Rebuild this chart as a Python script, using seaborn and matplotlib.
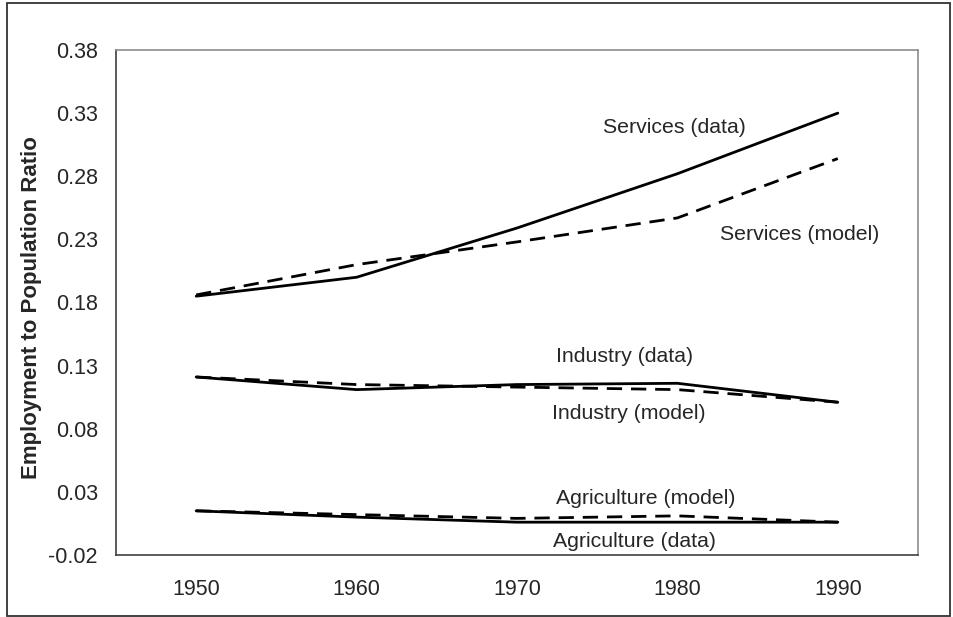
import numpy as np
import pandas as pd
import matplotlib
matplotlib.use("Agg")
import matplotlib.pyplot as plt
from matplotlib.patches import Rectangle
import seaborn as sns

# chart values
years = ["1950", "1960", "1970", "1980", "1990"]
services_data = [0.185, 0.200, 0.239, 0.282, 0.330]
services_model = [0.186, 0.210, 0.228, 0.247, 0.294]
industry_data = [0.121, 0.111, 0.115, 0.116, 0.101]
industry_model = [0.121, 0.115, 0.113, 0.111, 0.101]
agriculture_data = [0.015, 0.010, 0.006, 0.006, 0.006]
agriculture_model = [0.015, 0.012, 0.009, 0.011, 0.006]
y_ticks = [-0.02, 0.03, 0.08, 0.13, 0.18, 0.23, 0.28, 0.33, 0.38]

# label text and where it sits (category position, value)
labels = ["Services (data)", "Services (model)", "Industry (data)",
          "Industry (model)", "Agriculture (model)", "Agriculture (data)"]
label_x = [2.98, 3.76, 2.67, 2.70, 2.80, 2.73]
label_y = [0.319, 0.2335, 0.137, 0.0923, 0.0249, -0.0094]

series = {
    ("Services", "data"): services_data,
    ("Services", "model"): services_model,
    ("Industry", "data"): industry_data,
    ("Industry", "model"): industry_model,
    ("Agriculture", "data"): agriculture_data,
    ("Agriculture", "model"): agriculture_model,
}
rows = []
for (sector, kind), vals in series.items():
    for i, v in enumerate(vals):
        rows.append({"pos": i, "value": v, "line": sector + " " + kind, "kind": kind})
df = pd.DataFrame(rows)

sns.set_style("white")
plt.rcParams["font.family"] = ["Liberation Sans", "DejaVu Sans"]

fig = plt.figure(figsize=(9.54, 6.17), dpi=100)
ax = fig.add_axes([116 / 954, 1 - 555 / 617, (918 - 116) / 954, (555 - 50) / 617])

sns.lineplot(data=df, x="pos", y="value", hue="line", style="kind",
             palette=["black"] * 6, dashes={"data": "", "model": (5.5, 3.2)},
             estimator=None, linewidth=2.0, legend=False, ax=ax)

ax.set_xlim(-0.5, 4.5)
ax.set_ylim(-0.02, 0.38)
ax.set_yticks(y_ticks)
ax.set_yticklabels([f"{t:.2f}" for t in y_ticks], fontsize=15.5)

# ticks between categories, labels at category centres
ax.set_xticks(np.arange(-0.5, 5.0, 1.0))
ax.set_xticklabels([])
ax.set_xticks(range(len(years)), minor=True)
ax.set_xticklabels(years, minor=True, fontsize=15.5)
ax.tick_params(axis="x", which="major", direction="out", length=7, width=1, color="#404040")
ax.tick_params(axis="x", which="minor", length=0, pad=17)
ax.tick_params(axis="y", direction="out", length=7, width=1, color="#404040", pad=6)

ax.set_xlabel("")
ax.set_ylabel("Employment to Population Ratio", fontsize=16, fontweight="bold",
              va="center")
ax.yaxis.set_label_coords(-0.105, 0.49)

for side in ["top", "right"]:
    ax.spines[side].set_visible(True)
    ax.spines[side].set_color("#8c8c8c")
    ax.spines[side].set_linewidth(1.2)
for side in ["left", "bottom"]:
    ax.spines[side].set_color("#404040")
    ax.spines[side].set_linewidth(1.2)

for txt, x, y in zip(labels, label_x, label_y):
    ax.text(x, y, txt, ha="center", va="center", fontsize=15.3)

# outer frame round the whole chart
fig.patches.append(Rectangle((7 / 954, 1 - 616 / 617), (950 - 7) / 954, (616 - 3) / 617,
                             transform=fig.transFigure, fill=False,
                             edgecolor="#333333", linewidth=1.3))

fig.savefig("out.png", dpi=100)
